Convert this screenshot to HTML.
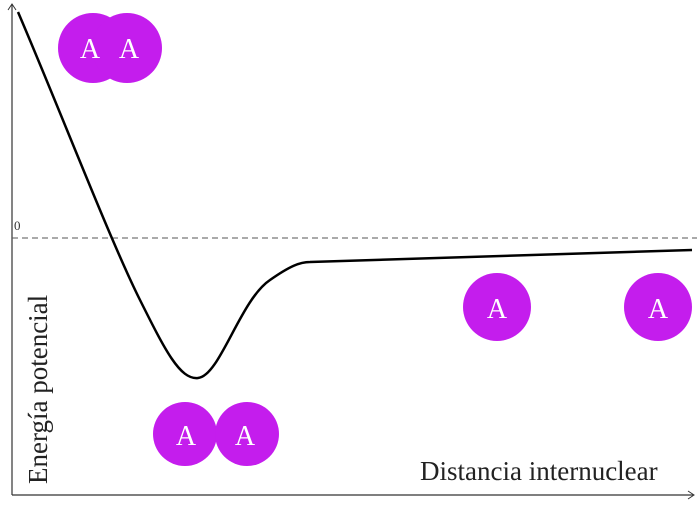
<!DOCTYPE html>
<html><head><style>body{margin:0;background:#fff}</style></head><body>
<svg width="697" height="507" xmlns="http://www.w3.org/2000/svg" font-family="Liberation Serif, serif">
<rect width="697" height="507" fill="#fff"/>
<line x1="12" y1="4" x2="12" y2="495" stroke="#333" stroke-width="1.2"/>
<path d="M8,10 L12,4 L16,10" fill="none" stroke="#333"/>
<line x1="12" y1="495" x2="693" y2="495" stroke="#333" stroke-width="1.2"/>
<path d="M688,491 L694,495 L688,499" fill="none" stroke="#333"/>
<line x1="12" y1="238" x2="697" y2="238" stroke="#555" stroke-width="1" stroke-dasharray="6,4"/>
<text x="14" y="230" font-size="13" fill="#333">0</text>
<path d="M18,12 C60,110 110,240 140,300 C165,350 180,380 198,378 C220,376 240,300 270,280 C290,266 300,262 310,262 L692,250" fill="none" stroke="#000" stroke-width="2.5"/>
<g fill="#c41ded">
<circle cx="93" cy="48" r="35"/><circle cx="127" cy="48" r="35"/>
<circle cx="185" cy="434" r="32"/><circle cx="247" cy="434" r="32"/>
<circle cx="497" cy="307" r="34"/><circle cx="658" cy="307" r="34"/>
</g>
<g fill="#fff" font-size="28" text-anchor="middle">
<text x="90" y="58">A</text><text x="129" y="58">A</text>
<text x="186" y="445">A</text><text x="245" y="445">A</text>
<text x="497" y="318">A</text><text x="658" y="318">A</text>
</g>
<text x="420" y="480" font-size="27" fill="#222">Distancia internuclear</text>
<text transform="translate(47,484) rotate(-90)" font-size="27" fill="#222">Energía potencial</text>
</svg>
</body></html>
